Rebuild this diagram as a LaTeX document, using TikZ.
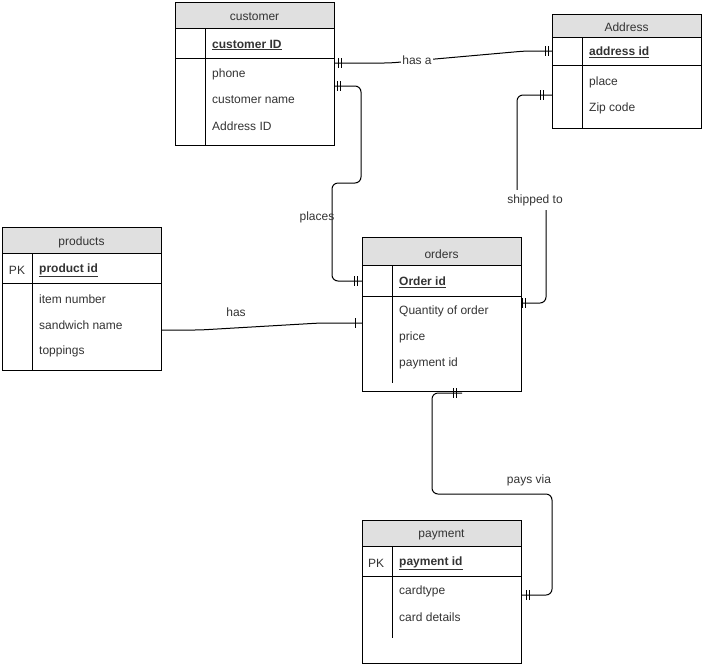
\documentclass[tikz,border=0pt]{standalone}
\usepackage{fontspec}
\setmainfont{Liberation Sans}
\definecolor{txt}{HTML}{333333}
\definecolor{head}{HTML}{E0E0E0}
\begin{document}
\begin{tikzpicture}[x=1pt,y=-1pt,
  font=\fontsize{12}{14}\selectfont,
  tbox/.style={draw,line width=1pt,inner sep=0pt,outer sep=0pt,anchor=north west},
  tline/.style={line width=1pt},
  fld/.style={anchor=west,inner sep=0pt,text=txt,yshift=-1pt},
  ttl/.style={inner sep=0pt,text=txt,yshift=-1pt},
  conn/.style={line width=1pt,rounded corners=6pt},
  lbl/.style={inner sep=1pt,text=txt,yshift=-1pt},
  tick/.style={line width=1pt}]
\useasboundingbox (0,0) rectangle (703,665);
\newcommand{\kf}[1]{\textbf{\underline{#1}}}
\newcommand{\vbar}[2]{\draw[tick] ([xshift=#2pt]#1) ++(0,-5) -- ++(0,10);}

% ---------- customer
\fill[head] (175,2) rectangle (334,28);
\node[tbox,minimum width=159pt,minimum height=143pt] (customer) at (175,2) {};
\draw[tline] (175,28) -- (334,28) (175,58) -- (334,58) (205,28) -- (205,145);
\node[ttl] (customerT) at (254.5,16) {customer};
\node[fld] (c1) at (212,44) {\kf{customer ID}};
\node[fld] (c2) at (212,73) {phone};
\node[fld] (c3) at (212,99) {customer name};
\node[fld] (c4) at (212,125) {Address ID};

% ---------- Address
\fill[head] (552,14) rectangle (701,37);
\node[tbox,minimum width=149pt,minimum height=114pt] (address) at (552,14) {};
\draw[tline] (552,37) -- (701,37) (552,65) -- (701,65) (582,37) -- (582,128);
\node[ttl] (addressT) at (626.5,26) {Address};
\node[fld] (a1) at (589,51) {\kf{address id}};
\node[fld] (a2) at (589,81) {place};
\node[fld] (a3) at (589,107) {Zip code};

% ---------- products
\fill[head] (2,227) rectangle (161,253);
\node[tbox,minimum width=159pt,minimum height=143pt] (products) at (2,227) {};
\draw[tline] (2,253) -- (161,253) (2,283) -- (161,283) (32,253) -- (32,370);
\node[ttl] (productsT) at (81.5,241) {products};
\node[ttl] (pk1) at (17,269) {PK};
\node[fld] (p1) at (39,269) {\kf{product id}};
\node[fld] (p2) at (39,298) {item number};
\node[fld] (p3) at (39,324) {sandwich name};
\node[fld] (p4) at (39,350) {toppings};

% ---------- orders
\fill[head] (362,237) rectangle (521,265);
\node[tbox,minimum width=159pt,minimum height=154pt] (orders) at (362,237) {};
\draw[tline] (362,265) -- (521,265) (362,296) -- (521,296) (392,265) -- (392,383);
\node[ttl] (ordersT) at (441.5,253) {orders};
\node[fld] (o1) at (399,281) {\kf{Order id}};
\node[fld] (o2) at (399,310) {Quantity of order};
\node[fld] (o3) at (399,336) {price};
\node[fld] (o4) at (399,362) {payment id};

% ---------- payment
\fill[head] (362,520) rectangle (521,546);
\node[tbox,minimum width=159pt,minimum height=143pt] (payment) at (362,520) {};
\draw[tline] (362,546) -- (521,546) (362,576) -- (521,576) (392,546) -- (392,638);
\node[ttl] (paymentT) at (441.5,534) {payment};
\node[ttl] (pk2) at (376,562) {PK};
\node[fld] (y1) at (399,562) {\kf{payment id}};
\node[fld] (y2) at (399,590) {cardtype};
\node[fld] (y3) at (399,616) {card details};

% ---------- connector end points
\coordinate (cHasA) at (334,63);
\coordinate (aHasA) at (552,51);
\coordinate (cPlaces) at (334,86);
\coordinate (oPlaces) at (362,281);
\coordinate (aShip) at (552,95);
\coordinate (oShip) at (521,303);
\coordinate (pHas) at (161,330);
\coordinate (oHas) at (362,323);
\coordinate (oPay) at (462,393);
\coordinate (yPay) at (521,595);

% has a
\draw[conn] (cHasA) -- (390,63) -- (525,51) -- (aHasA);
\node[lbl,fill=white] (lHasA) at (417,59) {has a};
\vbar{cHasA}{4}\vbar{cHasA}{7}
\vbar{aHasA}{-4}\vbar{aHasA}{-7}

% places
\draw[conn] (cPlaces) -- (361,86) -- (361,183) -- (332,183) -- (332,281) -- (oPlaces);
\node[lbl] (lPlaces) at (317,216) {places};
\vbar{cPlaces}{3}\vbar{cPlaces}{6}
\vbar{oPlaces}{-5}\vbar{oPlaces}{-8}

% shipped to
\draw[conn] (aShip) -- (517,95) -- (517,199) -- (546,199) -- (546,303) -- (oShip);
\node[lbl,fill=white,inner ysep=4pt] (lShip) at (535,199) {shipped to};
\vbar{aShip}{-9}\vbar{aShip}{-12}
\vbar{oShip}{1}\vbar{oShip}{4}

% has
\draw[conn] (pHas) -- (200,330) -- (320,323) -- (oHas);
\node[lbl] (lHas) at (236,311) {has};
\vbar{oHas}{-7}

% pays via
\draw[conn] (oPay) -- (432,393) -- (432,494) -- (552,494) -- (552,595) -- (yPay);
\node[lbl] (lPay) at (529,479) {pays via};
\vbar{oPay}{-9}\vbar{oPay}{-6}
\vbar{yPay}{5}\vbar{yPay}{8}
\end{tikzpicture}
\end{document}
